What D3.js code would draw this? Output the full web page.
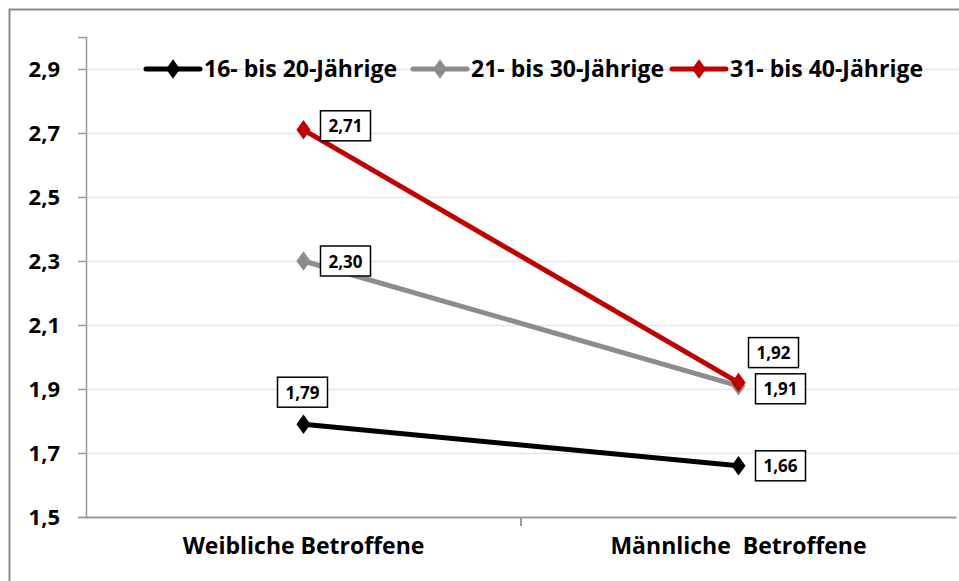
<!DOCTYPE html>
<html>
<head>
<meta charset="utf-8">
<script src="https://cdn.jsdelivr.net/npm/d3@7"></script>
<style>
  body { margin: 0; background: #fff; }
  svg { display: block; font-family: "Open Sans", sans-serif; }
  svg text { font-family: "Open Sans", sans-serif; font-weight: bold; }
</style>
</head>
<body>
<div id="chart"></div>
<script>
// values
const categories = ['Weibliche Betroffene', 'Männliche  Betroffene'];
const seriesNames = ['16- bis 20-Jährige', '21- bis 30-Jährige', '31- bis 40-Jährige'];
const values1620 = [1.79, 1.66];
const values2130 = [2.30, 1.91];
const values3140 = [2.71, 1.92];
const yTicks = [1.5, 1.7, 1.9, 2.1, 2.3, 2.5, 2.7, 2.9];

const colors = ['#000000', '#8c8c8c', '#c00000'];
// label box offsets relative to each point [dx, dy] (centre of box)
const labelOffsets = [
    [[-1, -32], [42, 0]],
    [[42, 0], [42, 3]],
    [[42, -4], [35, -30]]
];

const width = 959, height = 581;
const margin = { left: 86, right: 3, top: 37, bottom: 64 };

const svg = d3.select('#chart').append('svg')
    .attr('width', width)
    .attr('height', height);

// outer chart border (runs off the right/bottom edge)
svg.append('rect')
    .attr('x', 9.5).attr('y', 9.5)
    .attr('width', 980).attr('height', 600)
    .attr('fill', '#fff')
    .attr('stroke', '#8a8a8a')
    .attr('stroke-width', 2);

const x = d3.scaleBand()
    .domain(categories)
    .range([margin.left, width - margin.right]);

const y = d3.scaleLinear()
    .domain([1.5, 3.0])
    .range([height - margin.bottom, margin.top]);

// gridlines
svg.append('g')
    .selectAll('line')
    .data(yTicks.slice(1))
    .enter().append('line')
    .attr('x1', margin.left).attr('x2', width)
    .attr('y1', d => Math.round(y(d)) + 0.5)
    .attr('y2', d => Math.round(y(d)) + 0.5)
    .attr('stroke', '#e6e6e6')
    .attr('stroke-width', 1.5);

// y axis
const yAxis = svg.append('g')
    .attr('transform', `translate(${margin.left},0)`)
    .call(d3.axisLeft(y).tickValues(yTicks).tickSize(8).tickPadding(18)
        .tickFormat(d => d3.format('.1f')(d).replace('.', ',')));
yAxis.attr('font-family', null);
yAxis.select('.domain').attr('stroke', '#999').attr('stroke-width', 1.5);
yAxis.selectAll('.tick line').attr('stroke', '#999').attr('stroke-width', 1.5);
yAxis.selectAll('.tick text')
    .attr('fill', '#000')
    .style('font-size', '22px');

// x axis
const xAxis = svg.append('g')
    .attr('transform', `translate(0,${y(1.5)})`)
    .call(d3.axisBottom(x).tickSize(0).tickPadding(21));
xAxis.attr('font-family', null);
xAxis.select('.domain').attr('stroke', '#999').attr('stroke-width', 2);
xAxis.selectAll('.tick text')
    .attr('fill', '#000')
    .style('font-size', '23px')
    .style('white-space', 'pre');
// tick between categories
xAxis.append('line')
    .attr('x1', x(categories[1])).attr('x2', x(categories[1]))
    .attr('y1', 0).attr('y2', 9)
    .attr('stroke', '#999').attr('stroke-width', 2);

const series = [values1620, values2130, values3140].map((vals, i) => ({
    name: seriesNames[i],
    color: colors[i],
    points: vals.map((v, j) => ({ cat: categories[j], value: v, idx: j }))
}));

const line = d3.line()
    .x(d => x(d.cat) + x.bandwidth() / 2)
    .y(d => y(d.value));

const diamond = d3.symbol().type(d3.symbolDiamond).size(110);

series.forEach((s, i) => {
    const g = svg.append('g');
    g.append('path')
        .datum(s.points)
        .attr('d', line)
        .attr('fill', 'none')
        .attr('stroke', s.color)
        .attr('stroke-width', 5);
    g.selectAll('.marker')
        .data(s.points)
        .enter().append('path')
        .attr('class', 'marker')
        .attr('d', diamond)
        .attr('transform', d => `translate(${x(d.cat) + x.bandwidth() / 2},${y(d.value)}) scale(1.25,1)`)
        .attr('fill', s.color);
});

// data labels
series.forEach((s, i) => {
    s.points.forEach((d, j) => {
        const cx = x(d.cat) + x.bandwidth() / 2 + labelOffsets[i][j][0];
        const cy = y(d.value) + labelOffsets[i][j][1];
        svg.append('rect')
            .attr('x', cx - 25).attr('y', cy - 15)
            .attr('width', 50).attr('height', 30)
            .attr('fill', '#fff')
            .attr('stroke', '#000')
            .attr('stroke-width', 1.5);
        svg.append('text')
            .attr('x', cx).attr('y', cy)
            .attr('text-anchor', 'middle')
            .attr('dominant-baseline', 'central')
            .style('font-size', '17px')
            .text(d3.format('.2f')(d.value).replace('.', ','));
    });
});

// legend
const legendX = [146, 413, 672];
const legend = svg.append('g');
series.forEach((s, i) => {
    const lg = legend.append('g').attr('transform', `translate(${legendX[i]},${Math.round(y(2.9))})`);
    lg.append('line')
        .attr('x1', 0).attr('x2', 54)
        .attr('stroke', s.color)
        .attr('stroke-width', 5)
        .attr('stroke-linecap', 'round');
    lg.append('path')
        .attr('d', diamond)
        .attr('transform', 'translate(27,0) scale(1.25,1)')
        .attr('fill', s.color);
    lg.append('text')
        .attr('x', 58)
        .attr('dy', '0.35em')
        .style('font-size', '23px')
        .text(s.name);
});
</script>
</body>
</html>
